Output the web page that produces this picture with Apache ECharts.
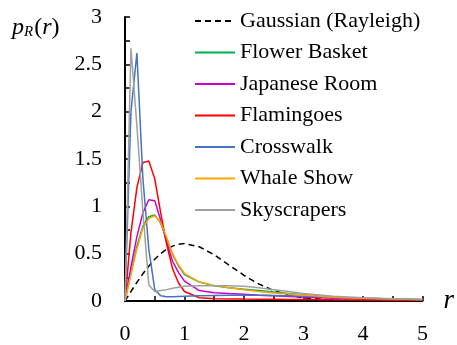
<!DOCTYPE html>
<html>
<head>
<meta charset="utf-8">
<script src="https://cdn.jsdelivr.net/npm/echarts@6/dist/echarts.min.js"></script>
<style>
html,body{margin:0;padding:0;background:#fff;}
#chart{width:457px;height:345px;}
</style>
</head>
<body>
<div id="chart"></div>
<script>
// x sample positions (r)
var rValues = [0,0.1,0.2,0.3,0.4,0.5,0.6,0.7,0.8,0.9,1.0,1.25,1.5,1.75,2.0,2.25,2.5,2.75,3.0,3.5,4.0,4.5,5.0];

var seriesNames = ['Gaussian (Rayleigh)','Flower Basket','Japanese Room','Flamingoes','Crosswalk','Whale Show','Skyscrapers'];

var gaussian     = [0,0.10,0.196,0.287,0.368,0.441,0.50,0.548,0.58,0.60,0.607,0.573,0.487,0.379,0.271,0.179,0.11,0.062,0.033,0.008,0.001,0,0];
var flowerBasket = [0,0.30,0.58,0.79,0.89,0.91,0.82,0.66,0.49,0.37,0.28,0.20,0.16,0.14,0.125,0.11,0.095,0.08,0.065,0.04,0.03,0.02,0.015];
var japaneseRoom = [0,0.36,0.68,0.93,1.07,1.06,0.85,0.62,0.42,0.30,0.21,0.11,0.088,0.078,0.07,0.062,0.055,0.048,0.042,0.03,0.02,0.015,0.01];
var flamingoes   = [0,0.72,1.20,1.46,1.48,1.29,0.93,0.60,0.34,0.19,0.10,0.035,0.025,0.022,0.02,0.019,0.018,0.016,0.015,0.012,0.01,0.008,0.006];
var crosswalk    = [0,2.00,2.62,1.30,0.55,0.12,0.055,0.045,0.045,0.048,0.05,0.055,0.058,0.06,0.06,0.06,0.058,0.055,0.05,0.04,0.03,0.02,0.012];
var whaleShow    = [0,0.28,0.55,0.77,0.87,0.90,0.83,0.67,0.50,0.38,0.29,0.20,0.165,0.14,0.12,0.10,0.085,0.075,0.063,0.04,0.028,0.02,0.015];
var skyscrapers  = [0,2.67,1.85,0.95,0.17,0.10,0.11,0.12,0.135,0.145,0.155,0.162,0.162,0.16,0.155,0.14,0.12,0.10,0.08,0.05,0.035,0.025,0.015];

var yTickLabels = ['0','0.5','1','1.5','2','2.5','3'];
var xTickLabels = ['0','1','2','3','4','5'];

var colors = ['#000000','#00B050','#CC00CC','#FF0000','#4472C4','#FFA500','#A0A0A0'];
var allValues = [gaussian, flowerBasket, japaneseRoom, flamingoes, crosswalk, whaleShow, skyscrapers];

function pairs(ys){ return rValues.map(function(x,i){ return [x, ys[i]]; }); }

var FONT = "Liberation Serif";
var serifRich = { t: { fontFamily: FONT, fontSize: 22, color: '#000', fontWeight: 'normal' } };

var series = allValues.map(function(vals, k){
  return {
    name: seriesNames[k],
    type: 'line',
    data: pairs(vals),
    symbol: 'none',
    smooth: false,
    lineStyle: { color: colors[k], width: 1.5, type: k === 0 ? [6,4] : 'solid' },
    itemStyle: { color: colors[k] },
    z: 2 + k
  };
});

var chart = echarts.init(document.getElementById('chart'), null, {renderer:'canvas'});
chart.setOption({
  animation: false,
  backgroundColor: '#ffffff',
  textStyle: { fontFamily: FONT },
  title: {
    text: '{i|p}{s|R}{n|(}{i|r}{n|)}',
    left: 12, top: 16, padding: 0,
    textStyle: {
      fontWeight: 'normal',
      rich: {
        i: { fontFamily: FONT, fontStyle: 'italic', fontWeight: 'normal', fontSize: 24, color: '#000' },
        n: { fontFamily: FONT, fontWeight: 'normal', fontSize: 24, color: '#000' },
        s: { fontFamily: FONT, fontStyle: 'italic', fontWeight: 'normal', fontSize: 15, color: '#000', verticalAlign: 'bottom', padding: [8,1,0,0] }
      }
    }
  },
  legend: {
    orient: 'vertical',
    left: 194, top: 10, padding: 0,
    itemWidth: 40, itemHeight: 14,
    itemGap: 9.5,
    data: seriesNames,
    itemStyle: { opacity: 0 },
    formatter: function(name){ return '{t|' + name + '}'; },
    textStyle: { fontFamily: FONT, fontSize: 22, color: '#000', lineHeight: 22, rich: serifRich }
  },
  grid: { left: 125, right: 34, top: 17, bottom: 42, containLabel: false },
  xAxis: {
    type: 'value', min: 0, max: 5, interval: 1,
    name: '{r|r}', nameLocation: 'end', nameGap: 21,
    nameTextStyle: { rich: { r: { fontFamily: FONT, fontStyle: 'italic', fontSize: 27, color: '#000' } } },
    axisLine: { show: true, onZero: false, lineStyle: { color: '#000', width: 2 } },
    axisTick: { show: true, inside: true, length: 5, lineStyle: { color: '#000', width: 1.5 } },
    minorTick: { show: true, splitNumber: 2, length: 5, lineStyle: { color: '#000', width: 1.5 } },
    splitLine: { show: false },
    axisLabel: { fontFamily: FONT, fontSize: 22, color: '#000', margin: 22, rich: serifRich,
      formatter: function(v){ var s = String(v); return xTickLabels.indexOf(s) >= 0 ? '{t|' + s + '}' : ''; } }
  },
  yAxis: {
    type: 'value', min: 0, max: 3, interval: 0.5,
    axisLine: { show: true, onZero: false, lineStyle: { color: '#000', width: 2 } },
    axisTick: { show: true, inside: true, length: 5, lineStyle: { color: '#000', width: 1.5 } },
    minorTick: { show: true, splitNumber: 2, length: 5, lineStyle: { color: '#000', width: 1.5 } },
    splitLine: { show: false },
    axisLabel: { fontFamily: FONT, fontSize: 22, color: '#000', margin: 23, rich: serifRich,
      formatter: function(v){ var s = String(v); return yTickLabels.indexOf(s) >= 0 ? '{t|' + s + '}' : ''; } }
  },
  series: series
});
</script>
</body>
</html>
